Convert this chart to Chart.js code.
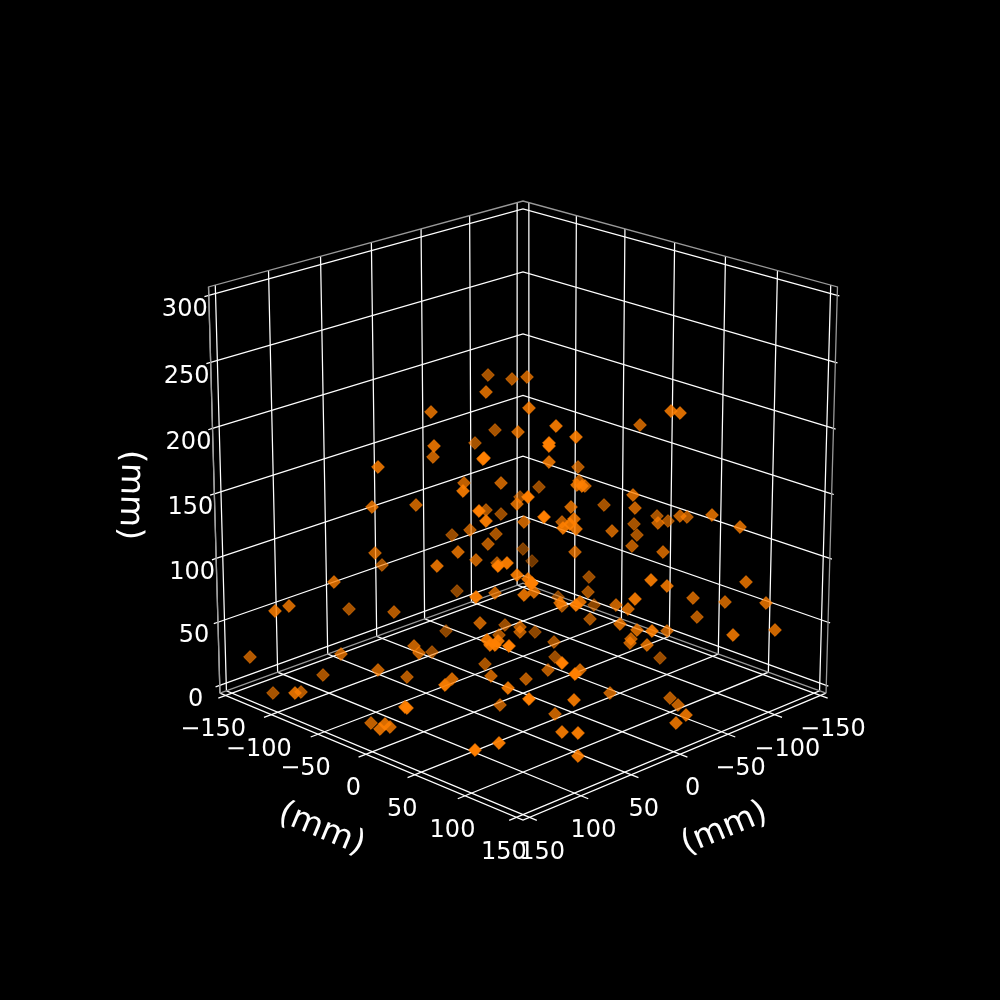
<!DOCTYPE html>
<html>
<head>
<meta charset="utf-8">
<style>
  html, body { margin: 0; padding: 0; background: #000; }
  canvas { display: block; }
</style>
<script src="https://cdn.jsdelivr.net/npm/chart.js@4"></script>
</head>
<body>
<canvas id="myChart" width="1000" height="1000"></canvas>
<script>
// Axis ticks in mm
const groundTicks = [-150, -100, -50, 0, 50, 100, 150];
const heightTicks = [0, 50, 100, 150, 200, 250, 300];
const axisLabel = '(mm)';

// Markers: position on the picture plane and how
// strongly the depth shading shows. Depth itself cannot be read back.
const pointX = [488,512,527,486,529,431,556,495,518,576,475,434,433,549,549,484,483,549,578,464,463,501,539,579,577,582,585,
  520,528,517,479,486,501,486,544,571,604,524,470,452,496,488,458,476,437,497,498,507,523,532,562,563,574,570,576,612,575,
  589,588,517,528,532,531,457,476,495,524,534,558,560,562,576,580,594,616,628,590,620,480,505,446,520,520,535,499,487,490,
  495,498,509,554,631,630,432,555,562,485,548,580,575,491,526,452,445,508,610,529,574,500,555,562,578,499,475,578,372,416,
  375,382,334,275,289,349,394,250,341,323,378,407,414,419,273,295,301,405,407,371,380,385,390,660,670,678,686,676,633,635,
  657,658,668,680,687,712,740,634,637,632,663,651,667,746,693,725,766,635,697,637,652,667,733,775,647,640,671,680,378];
const pointY = [375,379,377,392,408,412,426,430,432,437,443,446,457,443,446,458,459,462,467,483,491,483,487,481,485,486,486,
  497,497,504,511,510,514,521,517,507,505,522,530,535,534,544,552,560,566,563,566,563,549,561,522,528,519,524,529,531,552,
  577,592,575,579,583,584,591,597,593,595,592,597,603,606,605,602,605,605,609,619,624,623,625,631,627,632,632,635,640,645,
  645,641,646,642,639,643,652,657,663,664,670,670,674,676,679,679,685,688,693,699,700,705,714,732,733,743,750,756,507,505,
  553,565,582,611,606,609,612,657,654,675,670,677,646,653,693,693,692,707,708,723,729,724,727,658,698,705,715,723,495,508,
  516,523,521,516,517,515,527,524,535,546,552,580,586,582,598,602,603,599,617,630,631,631,635,630,645,425,411,413,467];
const pointShade = [.6,.65,.7,.75,.8,.75,.85,.6,.75,.85,.6,.8,.7,.95,.95,.95,.9,.8,.65,.7,.85,.7,.55,.65,.8,.85,.7,
  .55,1,.75,1,.6,.55,.9,1,.75,.6,.7,.65,.55,.6,.65,.75,.7,.8,.6,.95,.9,.45,.4,.65,.85,.8,.85,.8,.7,.7,
  .55,.6,.85,.85,1,.9,.5,.9,.7,.8,.75,.5,.75,.6,.9,.8,.5,.7,.75,.6,.75,.7,.55,.5,.65,.65,.5,.6,.85,.85,
  .9,.85,.95,.6,.7,.7,.55,.55,.95,.6,.65,.75,.95,.7,.65,.75,.9,.85,.7,1,.85,.65,.7,.85,.9,.9,.95,.85,.75,.7,
  .7,.6,.75,.8,.75,.6,.65,.65,.7,.6,.7,.65,.7,.7,.6,.8,.65,.9,.9,.7,.8,.8,.75,.55,.65,.7,.8,.8,.75,.7,
  .6,.7,.6,.7,.65,.75,.75,.6,.6,.65,.7,.85,.8,.75,.7,.7,.75,.85,.65,.75,.85,.7,.8,.75,.75,.7,.8,.8,.8];

// Camera fitted to the box corners in the picture
const paneEdge = 156.25;
const floorZ = -6.25;
const roofZ = 306.25;
const elevation = 20 * Math.PI / 180;
const viewDist = 2858.6;
const pxPerMm = 1.3968;
const zStretch = 0.99;
const centerX = 523;
const centerY = 493.8;

function project(x, y, z) {
    const across = (y - x) / Math.SQRT2;
    const along = (x + y) / Math.SQRT2;
    const up = (z - 150) * zStretch;
    const toward = along * Math.cos(elevation) + up * Math.sin(elevation);
    const screenUp = up * Math.cos(elevation) - along * Math.sin(elevation);
    const w = 1 - toward / viewDist;
    return { x: centerX + pxPerMm * across / w, y: centerY - pxPerMm * screenUp / w };
}

const GRID = '#ffffff';
const FRAME = '#999999';
const lineSets = [];

function addLine(corners, color, width) {
    lineSets.push({
        type: 'scatter',
        showLine: true,
        data: corners.map(c => project(c[0], c[1], c[2])),
        borderColor: color,
        borderWidth: width,
        pointRadius: 0,
        fill: false,
        order: 2,
    });
}

const a = paneEdge;
const tickOut = 7;
const labelOut = 12;

// Pane outlines
addLine([[a, -a, floorZ], [a, -a, roofZ], [-a, -a, roofZ], [-a, a, roofZ], [-a, a, floorZ]], FRAME, 1.3);
addLine([[a, -a, floorZ], [-a, -a, floorZ], [-a, a, floorZ]], FRAME, 1.3);

// Grid lines wrap over floor and wall, and run out past the edge as the tick mark
groundTicks.forEach(t => {
    addLine([[a + tickOut, t, floorZ], [-a, t, floorZ], [-a, t, roofZ]], GRID, 1.25);
    addLine([[t, a + tickOut, floorZ], [t, -a, floorZ], [t, -a, roofZ]], GRID, 1.25);
});
heightTicks.forEach(t => {
    addLine([[a + 4, -a, t], [a, -a, t], [-a, -a, t], [-a, a, t], [-a, a + 2, t]], GRID, 1.25);
});

// Axis lines
addLine([[a, -a, floorZ], [a, a, floorZ], [-a, a, floorZ]], GRID, 1.25);
addLine([[a, -a, floorZ], [a, -a, roofZ]], '#d0d0d0', 1.25);

// Dim markers first, like the far ones in the original
const drawOrder = pointX.map((_, i) => i).sort((i, j) => pointShade[i] - pointShade[j]);
const markerColors = drawOrder.map(i => `rgba(255,127,0,${Math.min(1, pointShade[i] + 0.05)})`);

const tickText = v => String(v).replace('-', '\u2212');

const textPlugin = {
    id: 'axisText',
    afterDatasetsDraw(chart) {
        const ctx = chart.ctx;
        const sx = chart.scales.x;
        const sy = chart.scales.y;
        const put = (text, px, py, size, angle) => {
            ctx.save();
            ctx.translate(sx.getPixelForValue(px), sy.getPixelForValue(py));
            ctx.rotate(angle * Math.PI / 180);
            ctx.font = `${size}px "DejaVu Sans"`;
            ctx.fillStyle = '#ffffff';
            ctx.textAlign = 'center';
            ctx.textBaseline = 'middle';
            ctx.fillText(text, 0, 0);
            ctx.restore();
        };
        groundTicks.forEach(t => {
            const left = project(a + labelOut, t, floorZ);
            put(tickText(t), left.x, left.y + 30, 24, 0);
            const right = project(t, a + labelOut, floorZ);
            put(tickText(t), right.x, right.y + 30, 24, 0);
        });
        heightTicks.forEach(t => {
            const end = project(a, -a, t);
            put(tickText(t), end.x - 24, end.y + 14, 24, 0);
        });
        put(axisLabel, 321.5, 829.5, 33, 22.5);
        put(axisLabel, 724.5, 829, 33, -22.5);
        put(axisLabel, 130, 495, 33, 91.5);
    },
};

new Chart(document.getElementById('myChart').getContext('2d'), {
    type: 'scatter',
    data: {
        datasets: [{
            data: drawOrder.map(i => ({ x: pointX[i], y: pointY[i] })),
            pointStyle: 'rectRot',
            pointRadius: 6.4,
            pointBackgroundColor: markerColors,
            pointBorderColor: markerColors,
            pointBorderWidth: 0.8,
            order: 1,
        }, ...lineSets],
    },
    options: {
        responsive: false,
        animation: false,
        devicePixelRatio: 1,
        layout: { padding: 0, autoPadding: false },
        plugins: { legend: { display: false }, tooltip: { enabled: false } },
        scales: {
            x: { type: 'linear', min: 0, max: 1000, display: false },
            y: { type: 'linear', min: 0, max: 1000, reverse: true, display: false },
        },
    },
    plugins: [textPlugin],
});
</script>
</body>
</html>
